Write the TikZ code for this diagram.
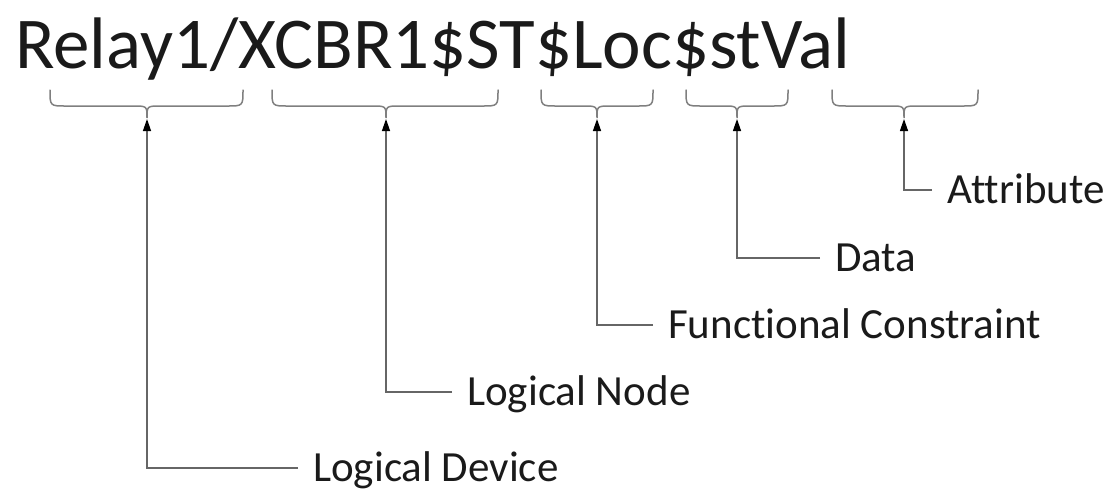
\documentclass[tikz,border=0pt]{standalone}
\usepackage{fontspec}
\newfontfamily\calib[Ligatures={NoCommon}]{Carlito}
\usetikzlibrary{arrows.meta}
\definecolor{txt}{HTML}{1A1A1A}
\definecolor{bracecol}{HTML}{7F7F7F}
\definecolor{linecol}{HTML}{666666}
\tikzset{
  title/.style={anchor=base west, inner sep=0pt, text=txt, font=\calib\fontsize{73}{73}\selectfont},
  lab/.style={anchor=west, inner sep=0pt, text=txt, text height=27.7pt, text depth=0pt, font=\calib\fontsize{43}{43}\selectfont},
  bracepath/.style={draw=bracecol, line width=1.5pt, line cap=round},
  conn/.style={draw=linecol, line width=1.3pt, -{Triangle[width=8pt,length=12pt,color=black]}},
}
\newcommand{\mybrace}[3]{% left, center, right
  \draw[bracepath] (#1,-90) .. controls (#1,-106) .. (#1+16,-106) -- (#2-14,-106)
    .. controls (#2,-106) .. (#2,-118) .. controls (#2,-106) .. (#2+14,-106)
    -- (#3-16,-106) .. controls (#3,-106) .. (#3,-90);
}
\begin{document}
\begin{tikzpicture}[x=1pt,y=1pt]
\useasboundingbox (0,0) rectangle (1119,-493);
\node[title] (t) at (15,-68) {Relay1/XCBR1\$ST\$Loc\$stVal};
\mybrace{50}{147}{243}
\mybrace{272}{386}{498}
\mybrace{541}{597}{653}
\mybrace{686}{737}{788}
\mybrace{832}{904}{978}
\coordinate (tip1) at (147,-119);
\coordinate (tip2) at (386,-119);
\coordinate (tip3) at (597,-119);
\coordinate (tip4) at (737,-119);
\coordinate (tip5) at (904,-119);
\node[lab] (ld) at (313,-468) {Logical Device};
\node[lab] (ln) at (467,-392) {Logical Node};
\node[lab] (fc) at (668,-325) {Functional Constraint};
\node[lab] (da) at (835,-258) {Data};
\node[lab] (at) at (947,-190) {Attribute};
\draw[conn] ([xshift=-15pt]ld.west) -| (tip1);
\draw[conn] ([xshift=-15pt]ln.west) -| (tip2);
\draw[conn] ([xshift=-15pt]fc.west) -| (tip3);
\draw[conn] ([xshift=-15pt]da.west) -| (tip4);
\draw[conn] ([xshift=-15pt]at.west) -| (tip5);
\end{tikzpicture}
\end{document}
